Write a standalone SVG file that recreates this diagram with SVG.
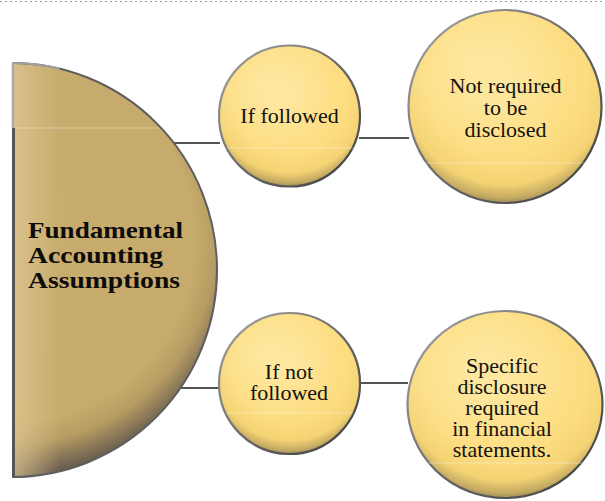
<svg xmlns="http://www.w3.org/2000/svg" width="605" height="501" viewBox="0 0 605 501">
<defs>
<style>
.ball{stroke:url(#rim);stroke-width:2.2}
.lbl{font-family:"Liberation Serif","Times New Roman",serif;font-size:22px;fill:#141210;text-anchor:middle}
.ttl{font-family:"Liberation Serif","Times New Roman",serif;font-size:24px;font-weight:bold;fill:#0e0c0a}
.conn{stroke:#1a1a1a;stroke-width:1.6;fill:none}
.gloss{stroke:#fff;stroke-opacity:0.35;stroke-width:1}
</style>
<radialGradient id="ballFill" cx="0.5" cy="0.36" r="0.68">
<stop offset="0" stop-color="#FEE497"/>
<stop offset="0.6" stop-color="#FCDD80"/>
<stop offset="0.8" stop-color="#F4D374"/>
<stop offset="0.9" stop-color="#C5AB62"/>
<stop offset="1" stop-color="#6C6150"/>
</radialGradient>
<radialGradient id="ballHi" cx="0.32" cy="0.28" r="0.5">
<stop offset="0" stop-color="#fff3c4" stop-opacity="0.35"/>
<stop offset="1" stop-color="#fff3c4" stop-opacity="0"/>
</radialGradient>
<linearGradient id="rim" x1="0" y1="0" x2="1" y2="1">
<stop offset="0" stop-color="#a8a8a8"/>
<stop offset="0.5" stop-color="#6a6a6a"/>
<stop offset="1" stop-color="#3e3e3e"/>
</linearGradient>
<radialGradient id="halfFill" gradientUnits="userSpaceOnUse" cx="12" cy="240" r="240">
<stop offset="0" stop-color="#C9AD6F"/>
<stop offset="0.76" stop-color="#C7AB6C"/>
<stop offset="0.85" stop-color="#B79C63"/>
<stop offset="0.93" stop-color="#857457"/>
<stop offset="1" stop-color="#5c5248"/>
</radialGradient>
<linearGradient id="halfLeft" gradientUnits="userSpaceOnUse" x1="12" y1="0" x2="60" y2="0">
<stop offset="0" stop-color="#E2CB98" stop-opacity="0.7"/>
<stop offset="1" stop-color="#E2CB98" stop-opacity="0"/>
</linearGradient>
</defs>
<rect width="605" height="501" fill="#fff"/>
<line x1="0" y1="1.5" x2="605" y2="1.5" stroke="#9a9a9a" stroke-width="1.2" stroke-dasharray="2,3"/>

<g id="connectors">
<line class="conn" x1="172" y1="143" x2="220" y2="143"/>
<line class="conn" x1="359" y1="138" x2="409" y2="138"/>
<line class="conn" x1="178" y1="388" x2="220" y2="388"/>
<line class="conn" x1="359" y1="383" x2="408" y2="383"/>
</g>

<g id="fundamental">
<path d="M12,63 A205,207 0 0 1 12,477 Z" fill="url(#halfFill)"/>
<path d="M12,63 A205,207 0 0 1 12,477 Z" fill="url(#halfLeft)"/>
<line class="gloss" x1="14" y1="128" x2="160" y2="128"/>
<path d="M12,63 A205,207 0 0 1 12,477" fill="none" stroke="#5e5e5e" stroke-width="2"/>
<path d="M12,63 A205,207 0 0 1 60,68.7" fill="none" stroke="#a0a0a0" stroke-width="2.2"/>
<line x1="13" y1="63" x2="13" y2="128" stroke="#a9a9a9" stroke-width="2.5"/>
<line x1="13.5" y1="128" x2="13.5" y2="477" stroke="#555" stroke-width="3"/>
<text class="ttl" x="28" y="238" textLength="155" lengthAdjust="spacingAndGlyphs">Fundamental</text>
<text class="ttl" x="28" y="263" textLength="135" lengthAdjust="spacingAndGlyphs">Accounting</text>
<text class="ttl" x="28" y="288" textLength="152" lengthAdjust="spacingAndGlyphs">Assumptions</text>
</g>

<g id="if-followed">
<circle class="ball" cx="289.5" cy="116" r="70.5" fill="url(#ballFill)"/>
<circle cx="289.5" cy="116" r="69" fill="url(#ballHi)"/>
<line class="gloss" x1="226" y1="148" x2="353" y2="148"/>
<text class="lbl" x="289.5" y="123">If followed</text>
</g>

<g id="not-required">
<circle class="ball" cx="505" cy="106.5" r="96.5" fill="url(#ballFill)"/>
<circle cx="505" cy="106.5" r="95" fill="url(#ballHi)"/>
<line class="gloss" x1="418" y1="163" x2="592" y2="163"/>
<text class="lbl" x="505.5" y="93">Not required</text>
<text class="lbl" x="505.5" y="115">to be</text>
<text class="lbl" x="505.5" y="137">disclosed</text>
</g>

<g id="if-not-followed">
<circle class="ball" cx="289.5" cy="383.5" r="70.5" fill="url(#ballFill)"/>
<circle cx="289.5" cy="383.5" r="69" fill="url(#ballHi)"/>
<line class="gloss" x1="226" y1="413" x2="353" y2="413"/>
<text class="lbl" x="289" y="379">If not</text>
<text class="lbl" x="289" y="400">followed</text>
</g>

<g id="specific-disclosure">
<ellipse class="ball" cx="505" cy="404.5" rx="97.5" ry="93.5" fill="url(#ballFill)"/>
<ellipse cx="505" cy="404.5" rx="96" ry="92" fill="url(#ballHi)"/>
<line class="gloss" x1="418" y1="463" x2="592" y2="463"/>
<text class="lbl" x="502" y="373">Specific</text>
<text class="lbl" x="502" y="394">disclosure</text>
<text class="lbl" x="502" y="415">required</text>
<text class="lbl" x="502" y="436">in financial</text>
<text class="lbl" x="502" y="457">statements.</text>
</g>
</svg>
